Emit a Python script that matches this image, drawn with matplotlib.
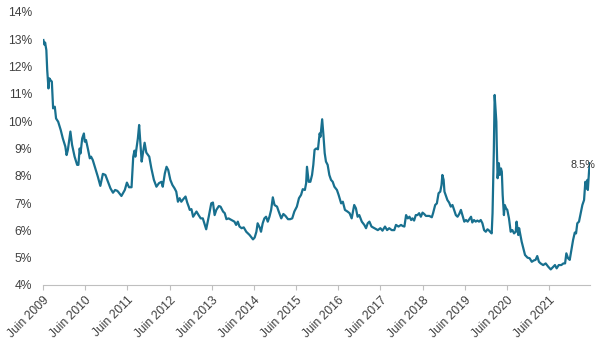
import matplotlib
matplotlib.use("Agg")
import matplotlib.pyplot as plt

plt.rcParams['font.family'] = ['Liberation Sans', 'DejaVu Sans']

# temps en années décimales (juin 2009 -> mai 2022)
t = [2009.43, 2009.46, 2009.47, 2009.50, 2009.52, 2009.55, 2009.57, 2009.60, 2009.63, 2009.66,
     2009.70, 2009.73, 2009.78, 2009.84, 2009.89, 2009.95, 2009.98, 2010.01, 2010.07, 2010.11,
     2010.17, 2010.23, 2010.26, 2010.29, 2010.31, 2010.35, 2010.39, 2010.41, 2010.44, 2010.49,
     2010.53, 2010.56, 2010.60, 2010.66, 2010.72, 2010.78, 2010.84, 2010.90, 2010.96, 2011.02,
     2011.08, 2011.13, 2011.18, 2011.20, 2011.28, 2011.36, 2011.41, 2011.46, 2011.52, 2011.56,
     2011.59, 2011.61, 2011.64, 2011.67, 2011.70, 2011.73, 2011.76, 2011.79, 2011.83, 2011.87,
     2011.94, 2011.99, 2012.05, 2012.11, 2012.17, 2012.23, 2012.26, 2012.31, 2012.35, 2012.39,
     2012.44, 2012.49, 2012.54, 2012.58, 2012.62, 2012.66, 2012.70, 2012.75, 2012.80, 2012.84,
     2012.88, 2012.90, 2012.94, 2012.98, 2013.06, 2013.11, 2013.16, 2013.21, 2013.29, 2013.35,
     2013.41, 2013.45, 2013.49, 2013.53, 2013.59, 2013.63, 2013.69, 2013.73, 2013.77, 2013.82,
     2013.89, 2013.96, 2014.00, 2014.04, 2014.08, 2014.13, 2014.18, 2014.24, 2014.32, 2014.40,
     2014.44, 2014.48, 2014.51, 2014.56, 2014.59, 2014.63, 2014.67, 2014.71, 2014.75, 2014.79,
     2014.83, 2014.87, 2014.91, 2014.97, 2015.01, 2015.07, 2015.12, 2015.17, 2015.23, 2015.28,
     2015.33, 2015.38, 2015.44, 2015.49, 2015.54, 2015.58, 2015.63, 2015.66, 2015.68, 2015.72,
     2015.76, 2015.80, 2015.83, 2015.86, 2015.90, 2015.94, 2015.98, 2016.00, 2016.04, 2016.07,
     2016.10, 2016.13, 2016.17, 2016.21, 2016.25, 2016.29, 2016.33, 2016.39, 2016.43, 2016.49,
     2016.53, 2016.58, 2016.64, 2016.69, 2016.74, 2016.80, 2016.84, 2016.88, 2016.92, 2016.98,
     2017.04, 2017.08, 2017.12, 2017.16, 2017.21, 2017.28, 2017.36, 2017.42, 2017.47, 2017.53,
     2017.58, 2017.63, 2017.69, 2017.75, 2017.79, 2017.85, 2017.91, 2017.95, 2017.99, 2018.03,
     2018.07, 2018.11, 2018.15, 2018.18, 2018.22, 2018.26, 2018.30, 2018.34, 2018.38, 2018.42,
     2018.46, 2018.50, 2018.58, 2018.64, 2018.67, 2018.72, 2018.76, 2018.80, 2018.84, 2018.87,
     2018.89, 2018.92, 2018.94, 2018.98, 2019.01, 2019.05, 2019.09, 2019.13, 2019.17, 2019.21,
     2019.25, 2019.29, 2019.33, 2019.37, 2019.41, 2019.45, 2019.49, 2019.53, 2019.57, 2019.60,
     2019.64, 2019.68, 2019.72, 2019.76, 2019.80, 2019.84, 2019.88, 2019.92, 2019.96, 2020.00,
     2020.02, 2020.06, 2020.08, 2020.11, 2020.13, 2020.17, 2020.18, 2020.20, 2020.23, 2020.25,
     2020.28, 2020.30, 2020.32, 2020.35, 2020.37, 2020.40, 2020.43, 2020.47, 2020.51, 2020.55,
     2020.59, 2020.63, 2020.65, 2020.69, 2020.71, 2020.74, 2020.77, 2020.81, 2020.85, 2020.91,
     2020.96, 2021.01, 2021.06, 2021.10, 2021.14, 2021.18, 2021.22, 2021.28, 2021.34, 2021.40,
     2021.46, 2021.51, 2021.56, 2021.60, 2021.65, 2021.71, 2021.76, 2021.80, 2021.83, 2021.87,
     2021.91, 2021.95, 2021.99, 2022.03, 2022.06, 2022.09, 2022.13, 2022.17, 2022.21, 2022.25,
     2022.28, 2022.31, 2022.33, 2022.34, 2022.37, 2022.39]

# rendement en %
rendement = [12.97, 12.79, 12.88, 12.60, 11.88, 11.20, 11.57, 11.50, 11.45, 10.47,
             10.53, 10.10, 9.98, 9.68, 9.37, 9.07, 8.76, 8.95, 9.62, 9.13,
             8.70, 8.40, 8.40, 9.00, 8.82, 9.37, 9.55, 9.25, 9.31, 8.95,
             8.64, 8.70, 8.58, 8.27, 7.97, 7.63, 8.07, 8.03, 7.78, 7.54,
             7.38, 7.48, 7.45, 7.42, 7.26, 7.48, 7.75, 7.58, 7.58, 8.70,
             8.92, 8.70, 9.04, 9.37, 9.86, 9.20, 8.52, 8.83, 9.21, 8.85,
             8.70, 8.27, 7.85, 7.60, 7.73, 7.78, 7.60, 8.09, 8.33, 8.21,
             7.85, 7.66, 7.54, 7.42, 7.05, 7.18, 7.05, 7.15, 7.24, 7.02,
             6.85, 6.75, 6.78, 6.50, 6.69, 6.56, 6.44, 6.44, 6.04, 6.50,
             6.99, 7.02, 6.56, 6.75, 6.89, 6.87, 6.69, 6.63, 6.41, 6.44,
             6.38, 6.32, 6.20, 6.32, 6.14, 6.08, 6.11, 5.95, 5.83, 5.67,
             5.74, 5.95, 6.26, 6.10, 5.95, 6.26, 6.44, 6.50, 6.32, 6.50,
             6.75, 7.21, 6.93, 6.87, 6.69, 6.44, 6.60, 6.53, 6.41, 6.41,
             6.44, 6.69, 6.87, 7.18, 7.30, 7.51, 7.48, 7.73, 8.33, 7.78,
             7.78, 8.03, 8.40, 8.95, 9.00, 8.97, 9.55, 9.43, 10.07, 9.49,
             8.83, 8.52, 8.40, 8.03, 7.85, 7.78, 7.60, 7.48, 7.30, 6.99,
             7.05, 6.75, 6.69, 6.63, 6.44, 6.93, 6.81, 6.50, 6.56, 6.32,
             6.20, 6.08, 6.26, 6.32, 6.14, 6.08, 6.01, 6.08, 5.99, 6.14,
             6.01, 6.08, 6.01, 6.01, 6.20, 6.14, 6.20, 6.16, 6.14, 6.56,
             6.44, 6.50, 6.38, 6.44, 6.36, 6.56, 6.56, 6.63, 6.50, 6.65,
             6.60, 6.53, 6.53, 6.48, 6.63, 6.93, 6.99, 7.36, 7.42, 7.66,
             8.03, 7.85, 7.42, 7.24, 7.11, 7.02, 6.87, 6.93, 6.75, 6.56,
             6.50, 6.60, 6.75, 6.53, 6.32, 6.38, 6.32, 6.41, 6.50, 6.29,
             6.38, 6.32, 6.36, 6.32, 6.38, 6.26, 6.01, 5.95, 6.04, 5.99,
             5.95, 5.89, 6.63, 8.88, 10.96, 9.98, 9.13, 7.91, 8.46, 8.03,
             8.27, 8.15, 7.30, 6.56, 6.93, 6.81, 6.75, 6.44, 5.95, 6.01,
             5.89, 5.95, 6.32, 5.83, 6.08, 5.83, 5.59, 5.34, 5.10, 5.00,
             4.98, 4.85, 4.90, 4.92, 5.06, 4.85, 4.79, 4.73, 4.79, 4.67,
             4.57, 4.65, 4.73, 4.61, 4.73, 4.73, 4.79, 4.79, 5.16, 4.98,
             4.92, 5.28, 5.65, 5.92, 5.89, 6.26, 6.32, 6.63, 6.93, 7.11,
             7.78, 7.54, 7.85, 7.48, 8.21, 8.46]

annees = list(range(2009, 2022))
labels_x = ["Juin " + str(a) for a in annees]
yticks = list(range(4, 15))
texte_fin = "8.5%"

fig = plt.figure(figsize=(6.02, 3.42), dpi=100)
ax = fig.add_axes([0.0714, 0.1667, 0.9086, 0.7983])

ax.plot(t, rendement, color='#18708f', lw=1.6, solid_joinstyle='round')

ax.set_xlim(2009.42, 2022.39)
ax.set_ylim(4, 14)
ax.set_yticks(yticks)
ax.set_yticklabels([str(v) + "%" for v in yticks])
ax.set_xticks([a + 0.42 for a in annees])
ax.set_xticklabels(labels_x, rotation=45, ha='right', rotation_mode='anchor')

for s in ['top', 'right', 'left']:
    ax.spines[s].set_visible(False)
ax.spines['bottom'].set_color('#bfbfbf')
ax.tick_params(axis='y', length=0, pad=8, labelsize=8.7, labelcolor='#404040')
ax.tick_params(axis='x', length=3.5, color='#bfbfbf', pad=3, labelsize=8.7, labelcolor='#404040')

ax.annotate(texte_fin, xy=(t[-1], rendement[-1]), xytext=(-5, -5), textcoords='offset points',
            ha='center', va='bottom', fontsize=7.8, color='#333333', annotation_clip=False)

fig.savefig("out.png", dpi=100)
